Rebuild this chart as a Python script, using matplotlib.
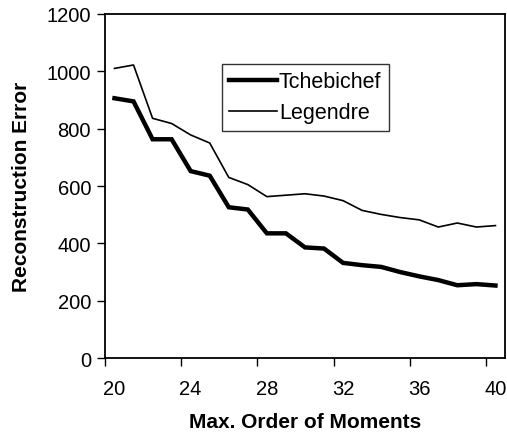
import matplotlib.pyplot as plt
import numpy as np

plt.rcParams['font.family'] = ['Liberation Sans', 'DejaVu Sans']

# max order of moments
orders = list(range(20, 41))
tchebichef = [906, 895, 763, 763, 652, 636, 526, 518, 435, 435, 386, 382,
              332, 324, 318, 300, 285, 272, 254, 258, 253]
legendre = [1010, 1022, 836, 818, 778, 750, 630, 605, 563, 568, 573, 565,
            549, 515, 501, 490, 482, 457, 471, 457, 462]
xtick_labels = ['20', '24', '28', '32', '36', '40']

fig = plt.figure(figsize=(5.07, 4.39), dpi=100)
ax = fig.add_axes([0.207, 0.182, 0.789, 0.784])

ax.plot(orders, tchebichef, color='black', lw=3.2, label='Tchebichef',
        solid_joinstyle='miter')
ax.plot(orders, legendre, color='black', lw=1.2, label='Legendre')

ax.set_xlim(19.5, 40.5)
ax.set_ylim(0, 1200)
ax.set_yticks(np.arange(0, 1201, 200))

# excel style category axis: tick marks between categories, labels on them
ax.set_xticks(np.arange(19.5, 40.6, 4))
ax.set_xticklabels([])
ax.set_xticks([int(s) for s in xtick_labels], minor=True)
ax.set_xticklabels(xtick_labels, minor=True)
ax.tick_params(axis='x', which='major', direction='out', length=6, width=1)
ax.tick_params(axis='x', which='minor', length=0, pad=15, labelsize=14.5)
ax.tick_params(axis='y', direction='out', length=6, width=1, labelsize=14.5, pad=4)

for sp in ax.spines.values():
    sp.set_linewidth(1.3)

ax.set_xlabel('Max. Order of Moments', fontsize=15, fontweight='bold', labelpad=10)
ax.set_ylabel('Reconstruction Error', fontsize=15, fontweight='bold', labelpad=11)

leg = ax.legend(loc='upper left', bbox_to_anchor=(0.292, 0.855), fontsize=15.5,
                frameon=True, fancybox=False, edgecolor='black', handlelength=2.2,
                handletextpad=0.1, borderpad=0.35, labelspacing=0.45, borderaxespad=0)
leg.get_frame().set_linewidth(1.0)

fig.savefig('out.png', dpi=100)
